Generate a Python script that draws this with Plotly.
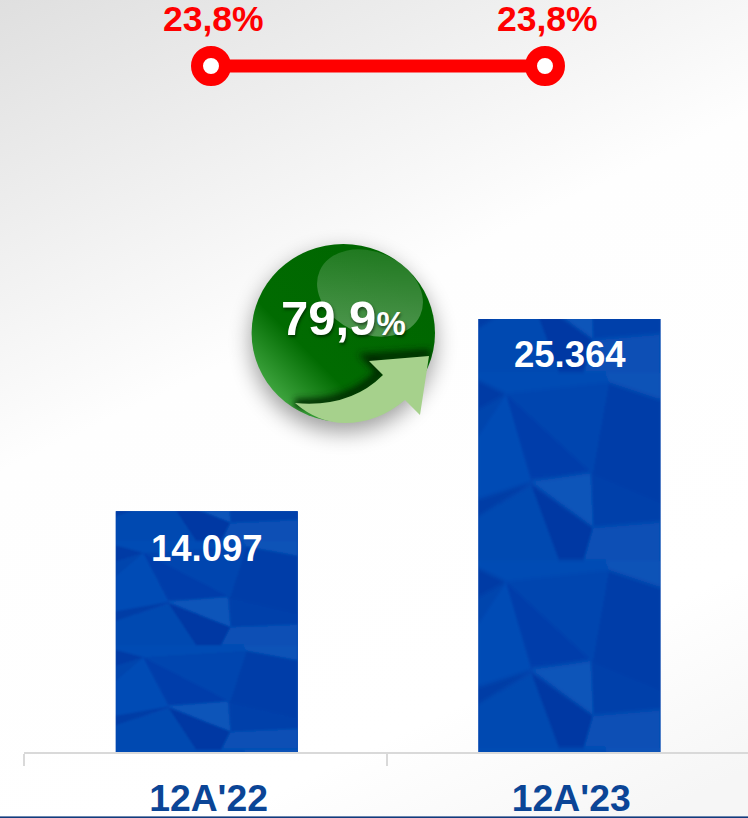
import base64
import plotly.graph_objects as go

# ---- data ----
categories = ["12A'22", "12A'23"]
bar_values = [14097, 25364]
ratio_values = [23.8, 23.8]
growth_pct = "79,9"

W, H = 748, 818
BASE_PX = 752
PX_PER_UNIT = 433 / 25364


def uri(svg):
    return "data:image/svg+xml;base64," + base64.b64encode(svg.encode()).decode()


# ---- page background + badge artwork (decoration, not data) ----
page_svg = f"""<svg xmlns="http://www.w3.org/2000/svg" width="{W}" height="{H}" viewBox="0 0 {W} {H}">
<defs>
<linearGradient id="bg" gradientUnits="userSpaceOnUse" x1="120" y1="-60" x2="560" y2="860">
<stop offset="0" stop-color="#dfdfdf"/><stop offset="0.42" stop-color="#fefefe"/>
<stop offset="0.82" stop-color="#ffffff"/><stop offset="1" stop-color="#f6f6f6"/></linearGradient>
<linearGradient id="ball" gradientUnits="userSpaceOnUse" x1="400" y1="280" x2="280" y2="400">
<stop offset="0" stop-color="#006600"/><stop offset="0.68" stop-color="#016b01"/>
<stop offset="1" stop-color="#3fa53f"/></linearGradient>
<linearGradient id="gloss" x1="0.3" y1="0" x2="0.8" y2="1">
<stop offset="0" stop-color="#fff" stop-opacity="0.12"/><stop offset="1" stop-color="#fff" stop-opacity="0.32"/></linearGradient>
<filter id="soft" x="-40%" y="-40%" width="180%" height="180%"><feGaussianBlur stdDeviation="11"/></filter>
<filter id="soft2" x="-40%" y="-40%" width="180%" height="180%"><feGaussianBlur stdDeviation="3.5"/></filter>
<clipPath id="ballclip"><ellipse cx="343.3" cy="333" rx="91.7" ry="89"/></clipPath>
</defs>
<rect width="{W}" height="{H}" fill="url(#bg)"/>
<ellipse cx="343" cy="342" rx="92" ry="90" fill="#000" opacity="0.38" filter="url(#soft)"/>
<ellipse cx="343.3" cy="333" rx="91.7" ry="89" fill="url(#ball)"/>
<ellipse cx="370" cy="293" rx="55" ry="41" transform="rotate(24 370 293)" fill="url(#gloss)"/>
<g clip-path="url(#ballclip)">
<path d="M295,403 Q350,406 381,372 L368,358 L430,354" fill="none" stroke="#002a00" stroke-width="9" filter="url(#soft2)"/>
</g>
<path d="M295,403 Q350,408 383,375 L369,361 L429,356 L420,415 L405,400 Q378,423 345,423 Q318,423 295,403 Z" fill="#a6d18c"/>
<rect x="0" y="816.4" width="{W}" height="1.6" fill="#123b7d"/>
</svg>"""

# ---- low-poly bar texture, stretched over each bar ----
TILE = 0.434  # tile height as a share of the bar
facets = [
    ("#064cb4", [(0, -.05), (.63, .11), (.82, 0), (.72, .34), (.15, .40), (0, .33)]),
    ("#0852b7", [(.72, .34), (1, .43), (1, .1), (.85, .02), (.63, .11)]),
    ("#043ba5", [(0, .33), (.15, .40), (0, .48)]),
    ("#0645af", [(.15, .40), (.72, .34), (.63, .83), (.28, .70)]),
    ("#043eaa", [(.15, .40), (.63, .83), (.29, .85)]),
    ("#064cb5", [(.15, .40), (.29, .87), (0, .98), (0, .62)]),
    ("#0545ad", [(0, .48), (.15, .40), (0, .62)]),
    ("#043ca6", [(0, .96), (.29, .87), (0, 1.05)]),
    ("#043ea8", [(.72, .34), (1, .43), (1, .98), (.63, .83)]),
    ("#0441aa", [(.63, .83), (1, .98), (1, 1.08), (.63, 1.11)]),
    ("#0855b9", [(.29, .865), (.615, .82), (.63, 1.11)]),
    ("#0437a3", [(.29, .885), (.63, 1.11), (.58, 1.28), (.44, 1.28)]),
    ("#0649b1", [(0, 1.05), (.29, .885), (.44, 1.28), (0, 1.28)]),
    ("#074fb5", [(.63, 1.11), (1, 1.08), (1, 1.28), (.58, 1.28)]),
]
polys = []
for tile in (2, 1, 0, -1):
    for colour, pts in facets:
        p = " ".join(f"{u*100:.1f},{(v+tile)*TILE*100:.2f}" for u, v in pts)
        polys.append(f'<polygon points="{p}" fill="{colour}" stroke="{colour}" stroke-width="0.2"/>')
texture_svg = (
    '<svg xmlns="http://www.w3.org/2000/svg" width="364" height="800" viewBox="0 0 100 100" '
    'preserveAspectRatio="none"><defs><filter id="b" x="-5%" y="-5%" width="110%" height="110%">'
    '<feGaussianBlur stdDeviation="0.55"/></filter></defs>'
    '<rect width="100" height="100" fill="#0644ae"/>'
    '<g filter="url(#b)">' + "".join(polys) + "</g></svg>"
)
texture_uri = uri(texture_svg)

x_pos = list(range(len(categories)))
BAR_WIDTH = 182 / 362.66
LABEL_SHIFT = [-37, -35]
TICK_NUDGE = 0.005
BOLD = dict(family="Liberation Sans", weight="bold")

fig = go.Figure()
fig.add_bar(
    x=x_pos, y=bar_values, width=BAR_WIDTH,
    marker=dict(color="#0644ae", line_width=0),
    hoverinfo="skip", showlegend=False,
)
fig.add_scatter(
    x=x_pos, y=ratio_values, xaxis="x2", yaxis="y2",
    mode="lines+markers",
    line=dict(color="#ff0000", width=13),
    marker=dict(size=28, color="#ffffff", line=dict(color="#ff0000", width=12)),
    cliponaxis=False, hoverinfo="skip", showlegend=False,
)

images = [dict(source=uri(page_svg), xref="paper", yref="paper", x=0, y=1, sizex=1, sizey=1,
               xanchor="left", yanchor="top", sizing="stretch", layer="below")]
annotations = []
for i, v, shift in zip(x_pos, bar_values, LABEL_SHIFT):
    images.append(dict(source=texture_uri, xref="x", yref="y", x=i - BAR_WIDTH / 2, y=v,
                       sizex=BAR_WIDTH, sizey=v, xanchor="left", yanchor="top",
                       sizing="stretch", layer="above"))
    annotations.append(dict(x=i, y=v, xref="x", yref="y", yshift=shift, yanchor="middle", xshift=0.5,
                            text=f"{v:,}".replace(",", "."), showarrow=False,
                            font=dict(size=36.5, color="#ffffff", **BOLD)))
for i, r in zip(x_pos, ratio_values):
    annotations.append(dict(x=i, y=r, xref="x2", yref="y2", yshift=47, xshift=2, yanchor="middle",
                            text=f"{r:.1f}%".replace(".", ","), showarrow=False,
                            font=dict(size=35.5, color="#ff0000", **BOLD)))
annotations.append(dict(
    x=343.5 / W, y=1 - 318 / H, xref="paper", yref="paper", showarrow=False,
    text=f'{growth_pct}<span style="font-size:33px">%</span>',
    font=dict(size=49, color="#ffffff", shadow="1px 2px 3px rgba(0,0,0,0.5)", **BOLD),
))

DOM_X = [24 / W, 1]
fig.update_layout(
    template="none",
    width=W, height=H, margin=dict(l=0, r=0, t=0, b=0, pad=0), autosize=False,
    paper_bgcolor="rgba(0,0,0,0)", plot_bgcolor="rgba(0,0,0,0)",
    separators=",.", images=images, annotations=annotations, showlegend=False,
    xaxis=dict(
        domain=DOM_X, range=[-0.504, -0.504 + 724 / 362.66], tickmode="array", automargin=False,
        tickvals=[i + TICK_NUDGE for i in x_pos], ticktext=categories, ticks="", showgrid=False,
        zeroline=False, showline=True, linecolor="#d9d9d9", linewidth=2, ticklabelstandoff=12,
        tickfont=dict(size=37.3, color="#0b4596", **BOLD),
        minor=dict(tick0=-0.504, dtick=1, ticks="outside", ticklen=12, tickcolor="#d9d9d9",
                   tickwidth=2, showgrid=False),
    ),
    yaxis=dict(domain=[1 - BASE_PX / H, 1], range=[0, BASE_PX / PX_PER_UNIT], visible=False,
               showgrid=False, zeroline=False, automargin=False),
    xaxis2=dict(domain=DOM_X, overlaying="x", range=[(24 - 211) / 334, (748 - 211) / 334],
                visible=False, showgrid=False, zeroline=False, anchor="y2"),
    yaxis2=dict(domain=[1 - 132 / H, 1], range=[0, 47.6], visible=False, showgrid=False,
                zeroline=False, anchor="x2"),
)
fig.write_html("out.html", config={"displayModeBar": False},
               post_script="document.body.style.margin='0';")
